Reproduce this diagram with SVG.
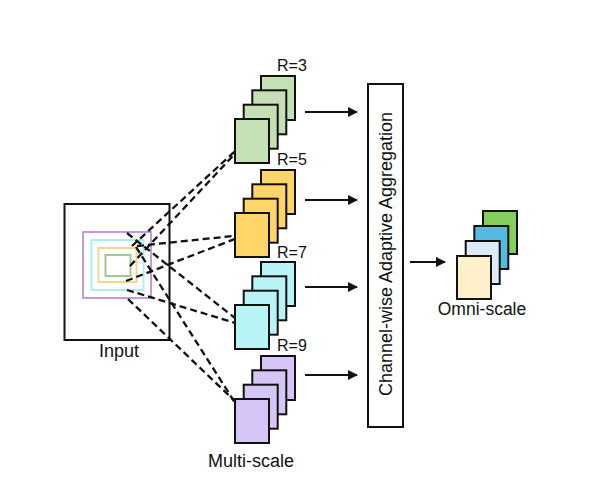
<svg xmlns="http://www.w3.org/2000/svg" width="600" height="482" viewBox="0 0 600 482">
<defs>
<style>
.card{stroke:#111;stroke-width:2}
.g{fill:#c5e0b4}.y{fill:#fdd568}.c{fill:#b8f3f6}.p{fill:#d6c6f5}
.lbl{font-family:"Liberation Sans",Arial,sans-serif;fill:#111}
.dash{fill:none;stroke:#111;stroke-width:2.3;stroke-dasharray:7 4}
.arr{fill:none;stroke:#111;stroke-width:2}
.sq{fill:none;stroke-width:2}
</style>
<marker id="ah" viewBox="0 0 10 10" refX="9" refY="5" markerWidth="13" markerHeight="10" markerUnits="userSpaceOnUse" orient="auto">
<path d="M0,0 L10,5 L0,10 z" fill="#111"/>
</marker>
</defs>
<rect width="600" height="482" fill="#fff"/>

<g id="input">
<rect x="64.5" y="204" width="105" height="136" fill="#fff" stroke="#111" stroke-width="2"/>
<rect class="sq" x="83" y="232" width="68" height="66" stroke="#c39bd8"/>
<rect class="sq" x="91.5" y="240" width="52" height="50" stroke="#aaf0f2"/>
<rect class="sq" x="98.5" y="248" width="38" height="34" stroke="#f0d98c"/>
<rect class="sq" x="105.5" y="255" width="25" height="21" stroke="#a6c596"/>
<text class="lbl" x="119" y="357" font-size="18" text-anchor="middle">Input</text>
</g>

<g id="connectors">
<path class="dash" d="M132,246 L246,141"/>
<path class="dash" d="M130,266 L244,144"/>
<path class="dash" d="M137,246 L243,235"/>
<path class="dash" d="M126,281 L240,237"/>
<path class="dash" d="M127,233 L240,322"/>
<path class="dash" d="M127,290 L245,326"/>
<path class="dash" d="M128,299 L241,407"/>
<path class="dash" d="M136,247 L246,420"/>
<path class="arr" d="M305,112 H357" marker-end="url(#ah)"/>
<path class="arr" d="M305,200 H357" marker-end="url(#ah)"/>
<path class="arr" d="M305,287 H357" marker-end="url(#ah)"/>
<path class="arr" d="M305,375 H357" marker-end="url(#ah)"/>
<path class="arr" d="M410,262 H445" marker-end="url(#ah)"/>
</g>

<g id="stack-r3">
<rect class="card g" x="261" y="76" width="34" height="44"/>
<rect class="card g" x="252.3" y="90.3" width="34" height="44"/>
<rect class="card g" x="243.7" y="104.7" width="34" height="44"/>
<rect class="card g" x="235" y="119" width="34" height="44"/>
<text class="lbl" x="277" y="71" font-size="16">R=3</text>
</g>

<g id="stack-r5">
<rect class="card y" x="261" y="170" width="34" height="44"/>
<rect class="card y" x="252.3" y="184.3" width="34" height="44"/>
<rect class="card y" x="243.7" y="198.7" width="34" height="44"/>
<rect class="card y" x="235" y="213" width="34" height="44"/>
<text class="lbl" x="277" y="165" font-size="16">R=5</text>
</g>

<g id="stack-r7">
<rect class="card c" x="261" y="262" width="34" height="44"/>
<rect class="card c" x="252.3" y="276.3" width="34" height="44"/>
<rect class="card c" x="243.7" y="290.7" width="34" height="44"/>
<rect class="card c" x="235" y="305" width="34" height="44"/>
<text class="lbl" x="277" y="258" font-size="16">R=7</text>
</g>

<g id="stack-r9">
<rect class="card p" x="261" y="356" width="34" height="44"/>
<rect class="card p" x="252.3" y="370.3" width="34" height="44"/>
<rect class="card p" x="243.7" y="384.7" width="34" height="44"/>
<rect class="card p" x="235" y="399" width="34" height="44"/>
<text class="lbl" x="277" y="351" font-size="16">R=9</text>
</g>

<g id="multi-scale-label">
<text class="lbl" x="251" y="467" font-size="18" text-anchor="middle">Multi-scale</text>
</g>

<g id="aggregation">
<rect x="368" y="84" width="35" height="343" fill="#fff" stroke="#111" stroke-width="2"/>
<text class="lbl" transform="translate(392,254) rotate(-90)" font-size="18" text-anchor="middle">Channel-wise Adaptive Aggregation</text>
</g>

<g id="omni-scale">
<rect class="card" x="483" y="211" width="34" height="43" fill="#82cf5c"/>
<rect class="card" x="474.3" y="226" width="34" height="43" fill="#55b9e2"/>
<rect class="card" x="465.7" y="241" width="34" height="43" fill="#dcebf7"/>
<rect class="card" x="457" y="256" width="34" height="43" fill="#fff0cc"/>
<text class="lbl" x="482" y="315" font-size="17.5" text-anchor="middle">Omni-scale</text>
</g>
</svg>
